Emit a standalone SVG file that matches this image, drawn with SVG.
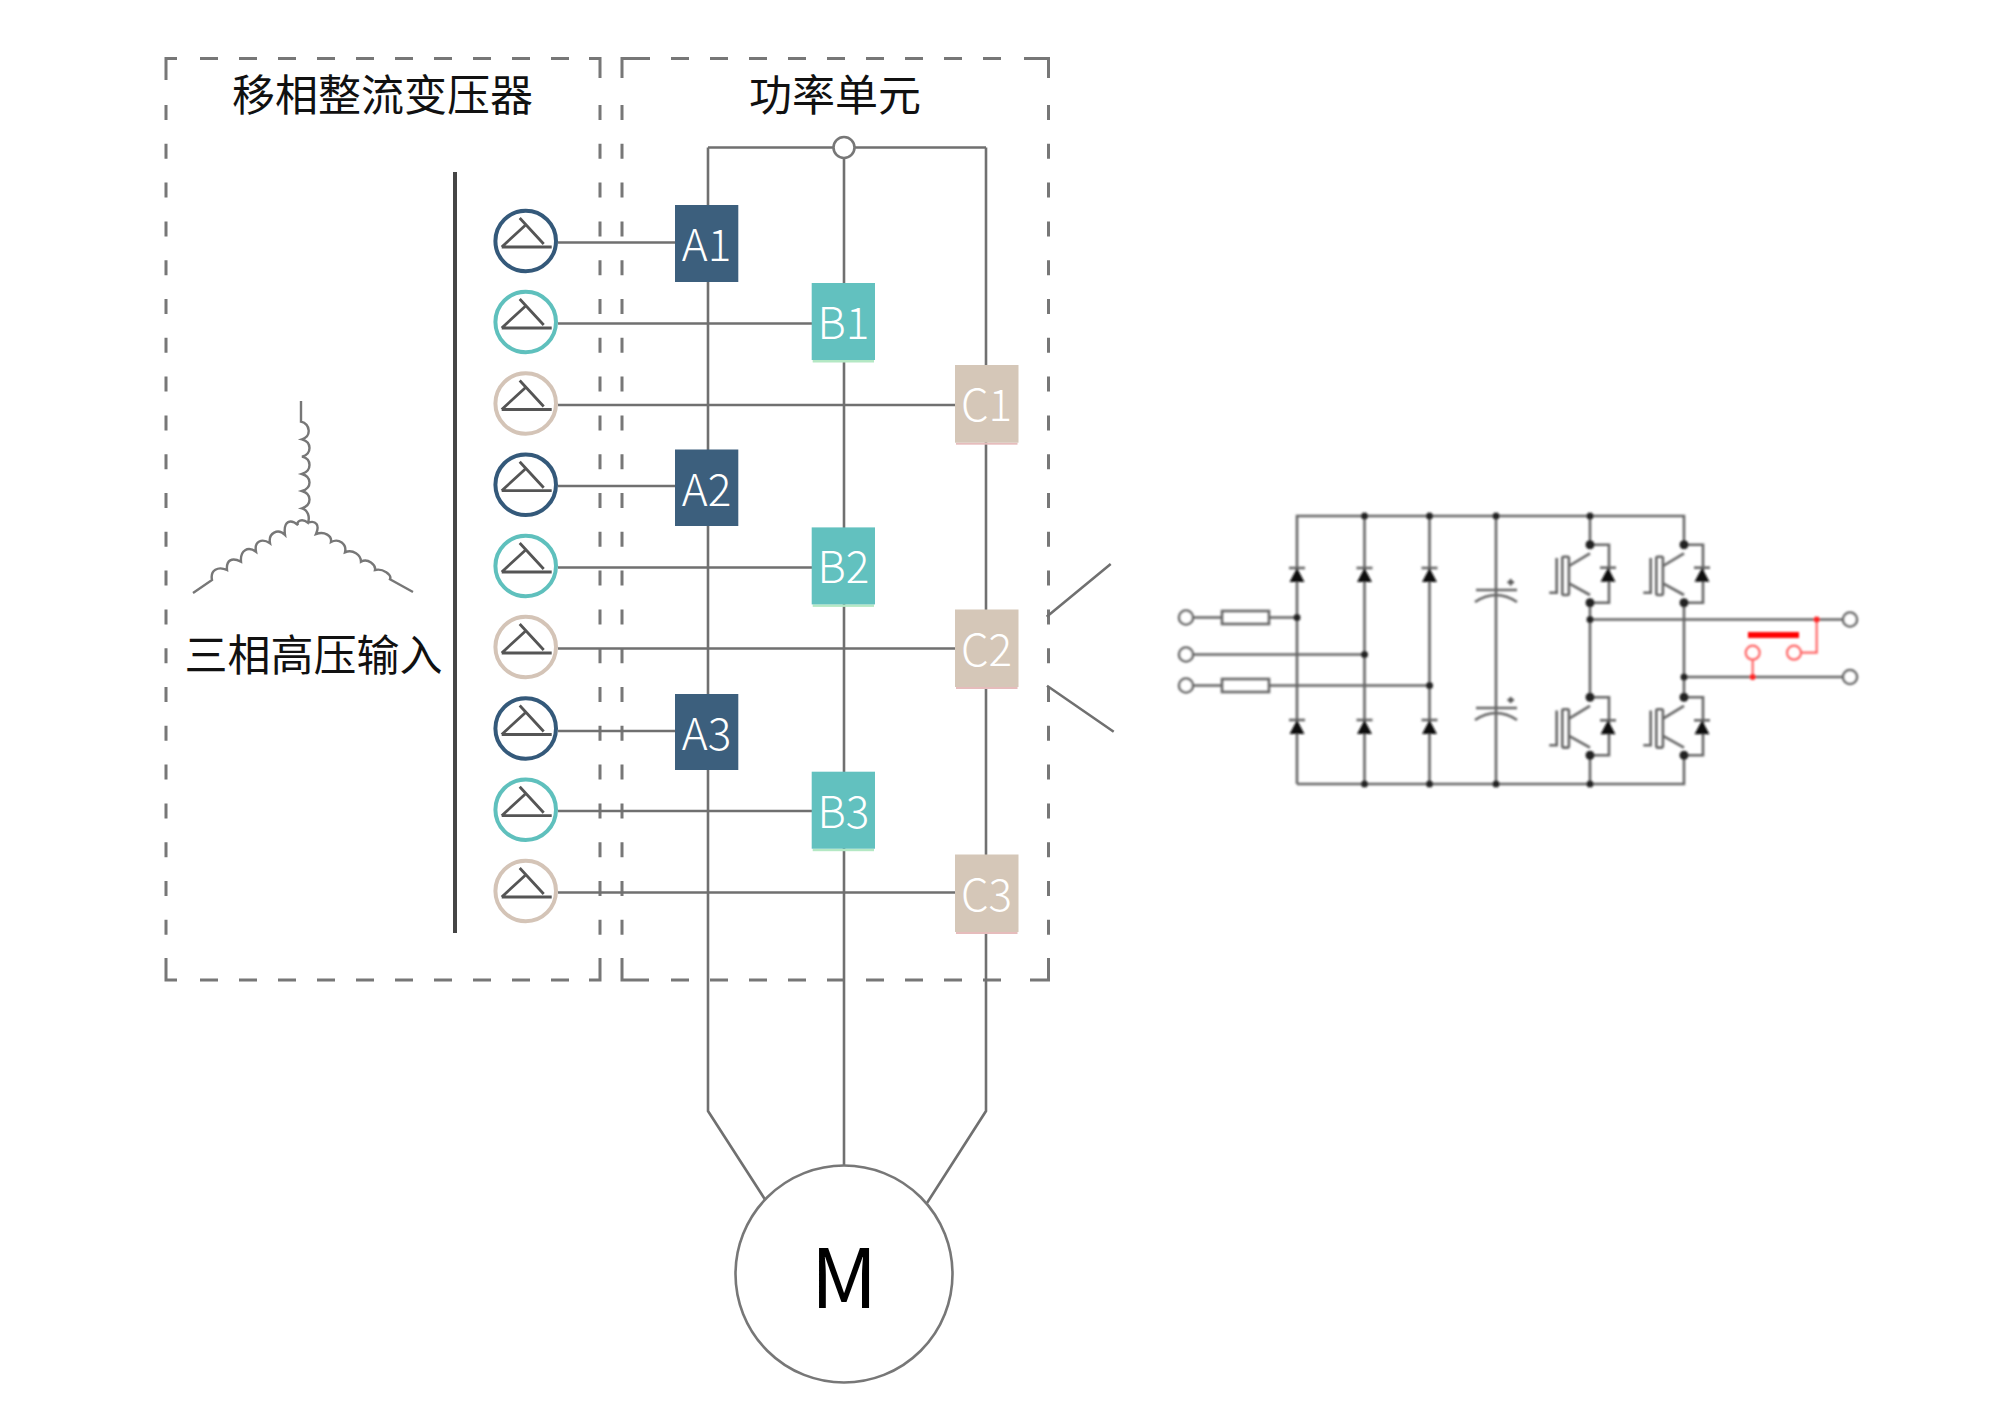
<svg xmlns="http://www.w3.org/2000/svg" xmlns:xlink="http://www.w3.org/1999/xlink" width="2000" height="1414" viewBox="0 0 2000 1414">
<style>
text{font-family:"Noto Sans CJK SC","Liberation Sans",sans-serif}
.title{font-size:43px;fill:#111}
.lbl{font-size:44px;fill:#fff;text-anchor:middle;font-weight:300}
.fh{fill:none;stroke:#777;stroke-width:3;stroke-dasharray:18 21}
.fv{fill:none;stroke:#777;stroke-width:3;stroke-dasharray:15 23.8}
.fc{fill:none;stroke:#777;stroke-width:3}
.w{fill:none;stroke:#707070;stroke-width:2.6}
.d{fill:none;stroke:#666;stroke-width:2.6}
.dk{fill:none;stroke:#555;stroke-width:2.4}
.r{fill:none;stroke:#f66;stroke-width:2.2}
.dot{fill:#222}
.da{fill:#3c5f7d}.db{fill:#62c1bf}.dc{fill:#d5c7b8}
.sb{fill:#b4e8c4}.sc{fill:#e6bcbc}
.ra{fill:#fff;stroke:#34597a;stroke-width:4}
.rb{fill:#fff;stroke:#5fc0bd;stroke-width:4}
.rc{fill:#fff;stroke:#d4c4b7;stroke-width:4}
</style>
<defs>
<filter id="soft" filterUnits="userSpaceOnUse" x="0" y="0" width="2000" height="1414"><feGaussianBlur stdDeviation="0.6"/></filter>
<filter id="soft2" filterUnits="userSpaceOnUse" x="0" y="0" width="2000" height="1414"><feGaussianBlur stdDeviation="0.9"/></filter>
<g id="delta" fill="none" stroke="#555" stroke-width="2.8"><path d="M-24 6H26M-24 6L1-17M-6-23L18 3"/></g>
<g id="diode"><path d="M-8 0H8" class="d"/><path d="M0 0L7.5 14H-7.5Z" fill="#111"/></g>
<g id="igbt">
<rect x="-27.7" y="12" width="6.6" height="38.300" rx="1.500" class="d"/>
<path d="M-33.300 13.300V48H-40.700M-21 21.300L0 8.600M-21 38.600L0 50.300" class="d"/>
<path d="M0 0H19V58H0" class="d"/>
<circle r="4.500" class="dot"/><circle cy="58" r="4.500" class="dot"/>
<use xlink:href="#diode" x="18" y="23"/>
</g>
</defs>
<rect width="2000" height="1414" fill="#fff"/>
<g id="frames" filter="url(#soft)">
<path class="fh" d="M200 58.500H570M200 980H570M671 58.500H1005M671 980H1005"/>
<path class="fv" d="M166 105V958M600 105V958M622 105V958M1048.500 105V958"/>
<path class="fc" d="M177 58.500H166V80M589 58.500H600V78M166 958V980H177M589 980H600V958M622 78V58.500H650M1024 58.500H1048.500V78M622 958V980H649M1030 980H1048.500V958"/>
</g>
<g id="connectors" filter="url(#soft)">
<path class="w" d="M708 147.500H986M708 147.500V1111L766 1201M844 147.500V1166M986 147.500V1111L927 1203"/>
<path class="w" d="M558 242.500H676M558 323.500H813M558 405H957M558 486H676M558 567.500H813M558 648.500H957M558 731H676M558 811H813M558 892.500H957"/>
<path class="w" d="M1046.700 616.700L1110.700 564M1047 685.700L1113.700 731.700"/>
</g>
<g id="bus" filter="url(#soft)"><rect x="453" y="172" width="4" height="761" fill="#444"/></g>
<g id="star" filter="url(#soft)"><path fill="none" stroke="#777" stroke-width="2.400" d="M301 401V421.700C310 424 312 436 302 439.300C312 442 312 454 302 456.700C312 459 312 471 302 474C312 477 312 488 302 491C312 494 312 505 302 508.300C308 510 310 517 308 522.700
C302 518 296 521 298 525C291 519 283 520 285 535C278 528 268 533 270 543.300C262 538 254 541 256 551.700C248 546 240 550 241 561.700C232 557 226 560 227 570C218 566 210 570 212 580L193 593
M308 522.700C316 520 320 525 316 534C325 531 332 536 331 542C339 538 347 544 345 552.300C353 549 361 555 361 561.700C368 558 376 565 375 570C383 568 392 575 390 579.300L413 592"/></g>
<g id="title-left"><text class="title" x="232" y="111">移相整流变压器</text></g>
<g id="title-right"><text class="title" x="749" y="111">功率单元</text></g>
<g id="title-input"><text class="title" x="184.500" y="671">三相高压输入</text></g>
<g id="winding-a1"><circle cx="525.700" cy="241" r="30.300" class="ra"/><use xlink:href="#delta" x="525.700" y="241"/></g>
<g id="winding-b1"><circle cx="525.700" cy="322" r="30.300" class="rb"/><use xlink:href="#delta" x="525.700" y="322"/></g>
<g id="winding-c1"><circle cx="525.700" cy="403.500" r="30.300" class="rc"/><use xlink:href="#delta" x="525.700" y="403.500"/></g>
<g id="winding-a2"><circle cx="525.700" cy="484.700" r="30.300" class="ra"/><use xlink:href="#delta" x="525.700" y="484.700"/></g>
<g id="winding-b2"><circle cx="525.700" cy="566" r="30.300" class="rb"/><use xlink:href="#delta" x="525.700" y="566"/></g>
<g id="winding-c2"><circle cx="525.700" cy="647" r="30.300" class="rc"/><use xlink:href="#delta" x="525.700" y="647"/></g>
<g id="winding-a3"><circle cx="525.700" cy="728.500" r="30.300" class="ra"/><use xlink:href="#delta" x="525.700" y="728.500"/></g>
<g id="winding-b3"><circle cx="525.700" cy="809.700" r="30.300" class="rb"/><use xlink:href="#delta" x="525.700" y="809.700"/></g>
<g id="winding-c3"><circle cx="525.700" cy="891" r="30.300" class="rc"/><use xlink:href="#delta" x="525.700" y="891"/></g>
<g id="A1"><rect x="675" y="205" width="63.300" height="77" class="da"/><text class="lbl" x="706.500" y="261">A1</text></g>
<g id="A2"><rect x="675" y="449.500" width="63.300" height="76.500" class="da"/><text class="lbl" x="706.500" y="505.500">A2</text></g>
<g id="A3"><rect x="675" y="694" width="63.300" height="76" class="da"/><text class="lbl" x="706.500" y="750">A3</text></g>
<g id="B1"><rect x="812.700" y="360" width="61.300" height="2.500" class="sb"/><rect x="811.700" y="283" width="63.300" height="77" class="db"/><text class="lbl" x="843.500" y="339">B1</text></g>
<g id="B2"><rect x="812.700" y="604.400" width="61.300" height="2.500" class="sb"/><rect x="811.700" y="527.400" width="63.300" height="77" class="db"/><text class="lbl" x="843.500" y="583.400">B2</text></g>
<g id="B3"><rect x="812.700" y="848.700" width="61.300" height="2.500" class="sb"/><rect x="811.700" y="771.700" width="63.300" height="77" class="db"/><text class="lbl" x="843.500" y="827.700">B3</text></g>
<g id="C1"><rect x="956" y="442.700" width="61.500" height="2" class="sc"/><rect x="955" y="365" width="63.500" height="77.700" class="dc"/><text class="lbl" x="986.500" y="421">C1</text></g>
<g id="C2"><rect x="956" y="687" width="61.500" height="2" class="sc"/><rect x="955" y="609.500" width="63.500" height="77.500" class="dc"/><text class="lbl" x="986.500" y="665.500">C2</text></g>
<g id="C3"><rect x="956" y="932" width="61.500" height="2" class="sc"/><rect x="955" y="854.500" width="63.500" height="77.500" class="dc"/><text class="lbl" x="986.500" y="910.500">C3</text></g>
<g id="neutral"><circle cx="844" cy="147.500" r="10.500" fill="#fff" stroke="#777" stroke-width="2.600"/></g>
<g id="motor"><circle cx="844" cy="1274" r="108.500" fill="#fff" stroke="#777" stroke-width="2.600"/><text x="844" y="1308" font-size="82" text-anchor="middle" fill="#000">M</text></g>
<g id="power-cell-circuit" filter="url(#soft2)">
<path class="d" d="M1297 784V516H1684V544.700M1297 784H1684V755.300M1364.500 516V784M1429.500 516V784M1496 516V784"/>
<path class="d" d="M1590 516V544.700M1590 602.700V697.300M1590 755.300V784M1684 602.700V697.300"/>
<path class="d" d="M1193.500 617.500H1222M1269 617.500H1297M1193.500 654.500H1364.500M1193.500 685.500H1222M1269 685.500H1429.500M1590 619.500H1842.500M1684 677H1842.500"/>
<rect x="1222" y="611" width="47" height="13" fill="#fff" class="d"/>
<rect x="1222" y="679" width="47" height="13" fill="#fff" class="d"/>
<g fill="#fff" stroke="#666" stroke-width="2.600"><circle cx="1186" cy="617.500" r="7"/><circle cx="1186" cy="654.500" r="7"/><circle cx="1186" cy="685.500" r="7"/><circle cx="1850" cy="619.500" r="7"/><circle cx="1850" cy="677" r="7"/></g>
<use xlink:href="#diode" x="1297" y="568"/><use xlink:href="#diode" x="1364.500" y="568"/><use xlink:href="#diode" x="1429.500" y="568"/>
<use xlink:href="#diode" x="1297" y="720"/><use xlink:href="#diode" x="1364.500" y="720"/><use xlink:href="#diode" x="1429.500" y="720"/>
<path class="d" d="M1476 590H1517M1475 602Q1496 588 1517 602M1476 708H1517M1475 720Q1496 706 1517 720"/>
<path class="dk" d="M1507.500 582.300H1514M1510.700 579V585.600M1507.500 700H1514M1510.700 697V703"/>
<use xlink:href="#igbt" x="1590" y="544.700"/><use xlink:href="#igbt" x="1684" y="544.700"/><use xlink:href="#igbt" x="1590" y="697.300"/><use xlink:href="#igbt" x="1684" y="697.300"/>
<g class="dot"><circle cx="1364.500" cy="516" r="3.500"/><circle cx="1429.500" cy="516" r="3.500"/><circle cx="1496" cy="516" r="3.500"/><circle cx="1590" cy="516" r="3.500"/><circle cx="1364.500" cy="784" r="3.500"/><circle cx="1429.500" cy="784" r="3.500"/><circle cx="1496" cy="784" r="3.500"/><circle cx="1590" cy="784" r="3.500"/><circle cx="1297" cy="617.500" r="3.500"/><circle cx="1364.500" cy="654.500" r="3.500"/><circle cx="1429.500" cy="685.500" r="3.500"/><circle cx="1590" cy="619.500" r="3.500"/><circle cx="1684" cy="677" r="3.500"/></g>
<rect x="1748" y="632" width="51" height="6" fill="#f00"/>
<path class="r" d="M1752.700 660V677M1801.500 652.700H1816.700V619.500"/>
<circle cx="1752.700" cy="652.700" r="7" fill="#fff" class="r"/><circle cx="1794" cy="652.700" r="7" fill="#fff" class="r"/>
<circle cx="1816.700" cy="619.500" r="3" fill="#f22"/><circle cx="1752.700" cy="677" r="3" fill="#f22"/>
</g>
</svg>
